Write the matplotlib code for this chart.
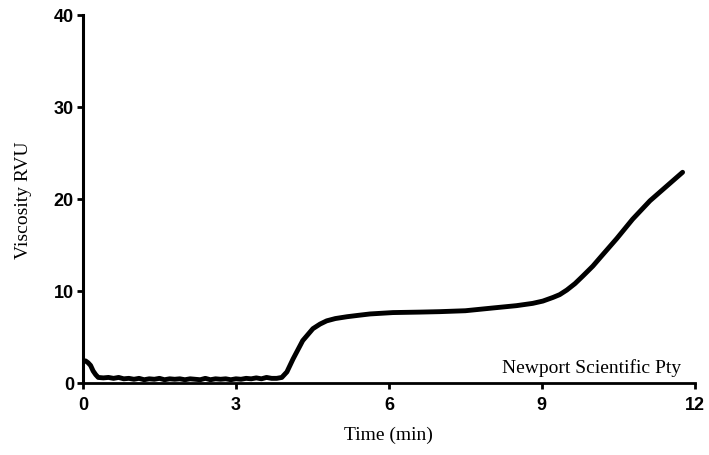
import matplotlib
matplotlib.use('Agg')
import matplotlib.pyplot as plt

# RVA trace (time in min, viscosity in RVU)
time_min = [0.05, 0.1, 0.15, 0.2, 0.25, 0.3, 0.4, 0.5, 0.6, 0.7, 0.8, 0.9,
            1.0, 1.1, 1.2, 1.3, 1.4, 1.5, 1.6, 1.7, 1.8, 1.9, 2.0, 2.1,
            2.2, 2.3, 2.4, 2.5, 2.6, 2.7, 2.8, 2.9, 3.0, 3.1, 3.2, 3.3,
            3.4, 3.5, 3.6, 3.7, 3.8, 3.9, 4.0, 4.12, 4.31, 4.51, 4.65, 4.78,
            4.95, 5.18, 5.4, 5.63, 6.08, 6.6, 7.0, 7.5, 8.04, 8.5, 8.82, 9.02,
            9.22, 9.35, 9.49, 9.65, 9.8, 10.0, 10.14, 10.47, 10.78, 11.12,
            11.45, 11.76]
viscosity = [2.4, 2.2, 1.9, 1.3, 0.9, 0.6, 0.55, 0.6, 0.5, 0.6, 0.45, 0.5,
             0.4, 0.5, 0.35, 0.45, 0.4, 0.5, 0.35, 0.45, 0.4, 0.45, 0.35, 0.45,
             0.4, 0.35, 0.5, 0.35, 0.45, 0.4, 0.45, 0.35, 0.45, 0.4, 0.5, 0.45,
             0.55, 0.45, 0.6, 0.5, 0.5, 0.6, 1.2, 2.6, 4.6, 5.9, 6.4, 6.75,
             7.0, 7.2, 7.35, 7.5, 7.65, 7.7, 7.75, 7.85, 8.15, 8.4, 8.65, 8.9,
             9.3, 9.6, 10.1, 10.8, 11.6, 12.7, 13.6, 15.7, 17.8, 19.8,
             21.4, 22.9]

x_ticks = [0, 3, 6, 9, 12]
y_ticks = [0, 10, 20, 30, 40]

fig = plt.figure(figsize=(7.09, 4.56), dpi=100)
ax = fig.add_axes([0.117, 0.158, 0.863, 0.807])

ax.plot(time_min, viscosity, color='black', lw=3.5, solid_capstyle='round',
        solid_joinstyle='round')

ax.set_xlim(0, 12)
ax.set_ylim(0, 40)
ax.set_xticks(x_ticks)
ax.set_yticks(y_ticks)

for side in ['top', 'right']:
    ax.spines[side].set_visible(False)
ax.spines['left'].set_linewidth(2.2)
ax.spines['bottom'].set_linewidth(2.0)
ax.tick_params(direction='out', length=4.5, width=2, labelsize=13)
ax.tick_params(axis='x', pad=5)
ax.tick_params(axis='y', pad=2)
for lab in ax.get_xticklabels() + ax.get_yticklabels():
    lab.set_family('Liberation Sans')
    lab.set_fontweight('bold')

ax.set_xlabel('Time (min)', family='Liberation Serif', fontsize=14, labelpad=9)
ax.set_ylabel('Viscosity RVU', family='Liberation Serif', fontsize=14, labelpad=16)

ax.text(11.74, 1.2, 'Newport Scientific Pty', family='Liberation Serif',
        fontsize=14, ha='right', va='baseline')

fig.savefig('out.png', dpi=100)
